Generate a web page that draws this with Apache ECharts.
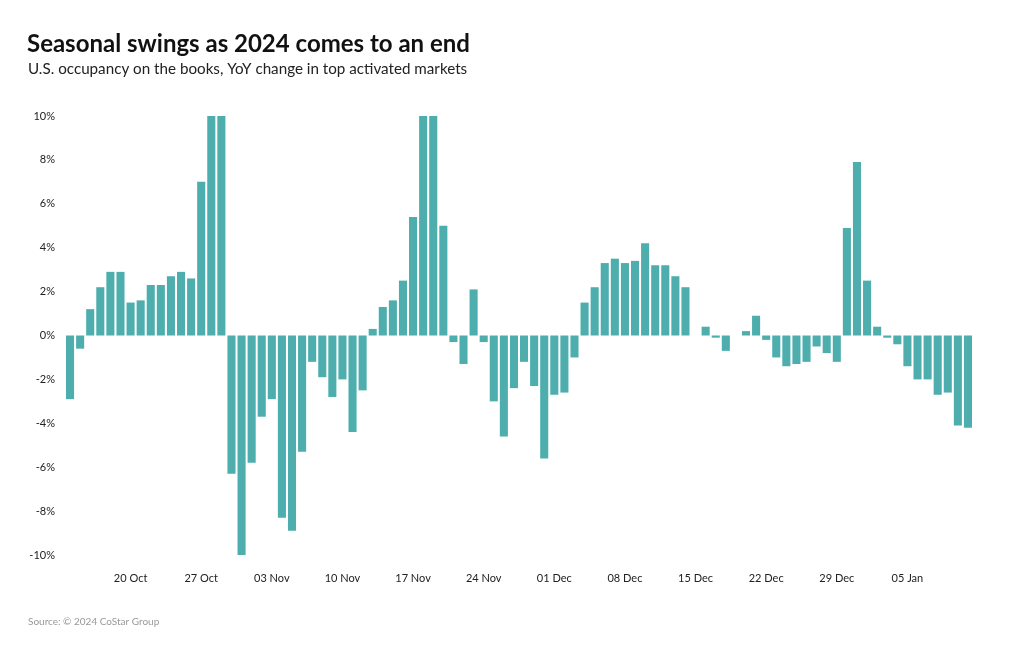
<!DOCTYPE html>
<html>
<head>
<meta charset="utf-8">
<script src="https://cdn.jsdelivr.net/npm/echarts@6/dist/echarts.min.js"></script>
<style>
html,body{margin:0;padding:0;background:#fff;}
#chart{width:1020px;height:650px;}
</style>
</head>
<body>
<div id="chart"></div>
<script>
// Dates: 14 Oct 2024 .. 11 Jan 2025 (daily)
const categories = [
  '14 Oct','15 Oct','16 Oct','17 Oct','18 Oct','19 Oct','20 Oct','21 Oct','22 Oct','23 Oct',
  '24 Oct','25 Oct','26 Oct','27 Oct','28 Oct','29 Oct','30 Oct','31 Oct','01 Nov','02 Nov',
  '03 Nov','04 Nov','05 Nov','06 Nov','07 Nov','08 Nov','09 Nov','10 Nov','11 Nov','12 Nov',
  '13 Nov','14 Nov','15 Nov','16 Nov','17 Nov','18 Nov','19 Nov','20 Nov','21 Nov','22 Nov',
  '23 Nov','24 Nov','25 Nov','26 Nov','27 Nov','28 Nov','29 Nov','30 Nov','01 Dec','02 Dec',
  '03 Dec','04 Dec','05 Dec','06 Dec','07 Dec','08 Dec','09 Dec','10 Dec','11 Dec','12 Dec',
  '13 Dec','14 Dec','15 Dec','16 Dec','17 Dec','18 Dec','19 Dec','20 Dec','21 Dec','22 Dec',
  '23 Dec','24 Dec','25 Dec','26 Dec','27 Dec','28 Dec','29 Dec','30 Dec','31 Dec','01 Jan',
  '02 Jan','03 Jan','04 Jan','05 Jan','06 Jan','07 Jan','08 Jan','09 Jan','10 Jan','11 Jan'
];
// YoY change, %
const yoyChange = [
  -2.9,-0.6,1.2,2.2,2.9,2.9,1.5,1.6,2.3,2.3,
  2.7,2.9,2.6,7.0,10,10,-6.3,-10,-5.8,-3.7,
  -2.9,-8.3,-8.9,-5.3,-1.2,-1.9,-2.8,-2.0,-4.4,-2.5,
  0.3,1.3,1.6,2.5,5.4,10,10,5.0,-0.3,-1.3,
  2.1,-0.3,-3.0,-4.6,-2.4,-1.2,-2.3,-5.6,-2.7,-2.6,
  -1.0,1.5,2.2,3.3,3.5,3.3,3.4,4.2,3.2,3.2,
  2.7,2.2,null,0.4,-0.1,-0.7,null,0.2,0.9,-0.2,
  -1.0,-1.4,-1.3,-1.2,-0.5,-0.8,-1.2,4.9,7.9,2.5,
  0.4,-0.1,-0.4,-1.4,-2.0,-2.0,-2.7,-2.6,-4.1,-4.2
];
const tickLabels = ['20 Oct','27 Oct','03 Nov','10 Nov','17 Nov','24 Nov','01 Dec','08 Dec','15 Dec','22 Dec','29 Dec','05 Jan'];

const chart = echarts.init(document.getElementById('chart'));
const font = 'Lato, "Noto Sans", sans-serif';
chart.setOption({
  animation: false,
  backgroundColor: '#fff',
  title: [
    {text: 'Seasonal swings as 2024 comes to an end', left: 27, top: 32, padding: 0,
     textStyle: {fontFamily: font, fontSize: 24, fontWeight: 'bold', color: '#111'}},
    {text: 'U.S. occupancy on the books, YoY change in top activated markets', left: 28, top: 62, padding: 0,
     textStyle: {fontFamily: font, fontSize: 15.2, fontWeight: 'normal', color: '#222'}},
    {text: 'Source: © 2024 CoStar Group', left: 28, top: 617, padding: 0,
     textStyle: {fontFamily: font, fontSize: 10, fontWeight: 'normal', color: '#999'}}
  ],
  grid: {left: 65, right: 47, top: 116, bottom: 95, containLabel: false},
  xAxis: {
    type: 'category',
    data: categories,
    axisLine: {show: false},
    axisTick: {show: false},
    splitLine: {show: false},
    axisLabel: {
      interval: function (i, v) { return tickLabels.indexOf(v) >= 0; },
      margin: 18,
      fontFamily: font, fontSize: 11, color: '#222'
    }
  },
  yAxis: {
    type: 'value',
    min: -10, max: 10, interval: 2,
    axisLine: {show: false},
    axisTick: {show: false},
    splitLine: {show: false},
    axisLabel: {formatter: '{value}%', margin: 10, fontFamily: font, fontSize: 11, color: '#222'}
  },
  series: [{
    type: 'bar',
    data: yoyChange,
    barCategoryGap: '20%',
    itemStyle: {color: '#4daead'}
  }]
});
</script>
</body>
</html>
